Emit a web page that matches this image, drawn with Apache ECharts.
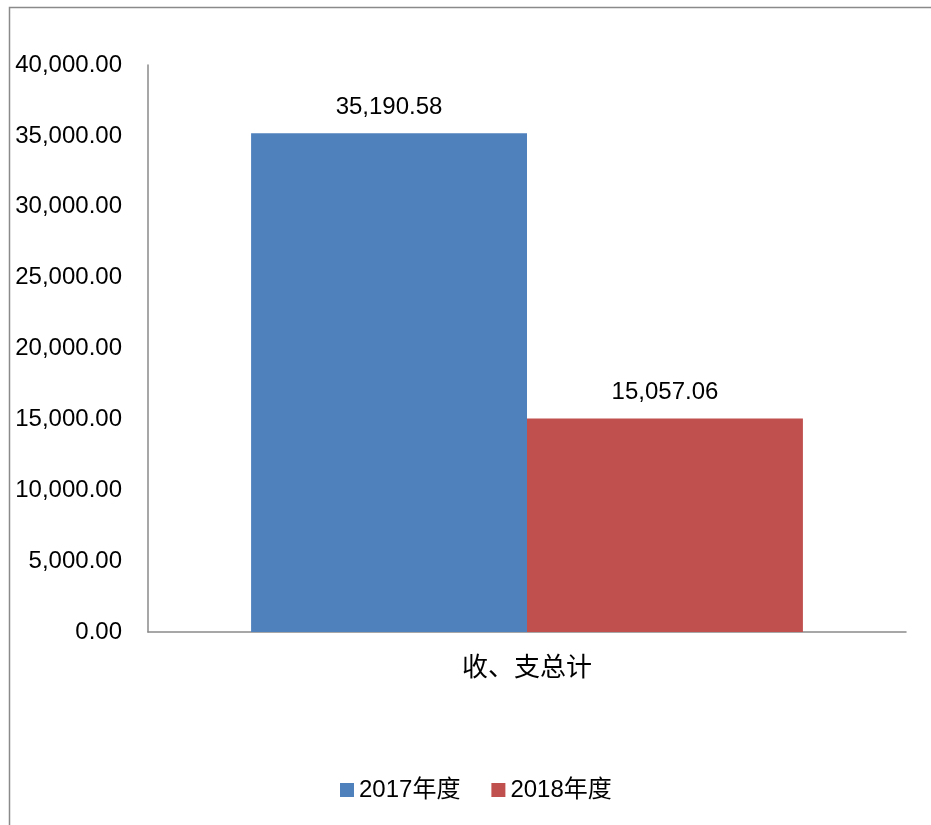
<!DOCTYPE html>
<html><head><meta charset="utf-8">
<script src="https://cdn.jsdelivr.net/npm/echarts@6/dist/echarts.min.js"></script>
<style>html,body{margin:0;padding:0;background:#fff}#c{width:931px;height:825px}</style>
</head><body><div id="c"></div>
<script>
var categories = ['收、支总计'];
var seriesNames = ['2017年度', '2018年度'];
var values2017 = [35190.58];
var values2018 = [15057.06];
var yTicks = [0, 5000, 10000, 15000, 20000, 25000, 30000, 35000, 40000];

function fmt(v){ return v.toLocaleString('en-US',{minimumFractionDigits:2,maximumFractionDigits:2}); }
var numFont = '"Liberation Sans", Arial, sans-serif';
var chart = echarts.init(document.getElementById('c'));
chart.setOption({
  animation:false,
  graphic:[{type:'rect',shape:{x:9.5,y:7.5,width:1200,height:1200},style:{fill:'none',stroke:'#8a8a8a',lineWidth:1.5},silent:true}],
  grid:{left:148,right:25,top:65,bottom:193},
  legend:{bottom:18,left:335,itemWidth:14,itemHeight:14,itemGap:31,icon:'rect',
    textStyle:{fontSize:24,color:'#000',fontFamily:numFont+', "Noto Sans CJK SC"'},data:seriesNames},
  xAxis:{type:'category',data:categories,
    axisLine:{lineStyle:{color:'#8a8a8a',width:1.5}},axisTick:{show:false},
    axisLabel:{fontSize:26,color:'#000',margin:21,fontFamily:'"Noto Sans CJK SC"'}},
  yAxis:{type:'value',min:yTicks[0],max:yTicks[yTicks.length-1],interval:5000,
    axisLine:{show:true,lineStyle:{color:'#8a8a8a',width:1.5}},axisTick:{show:false},splitLine:{show:false},
    axisLabel:{fontSize:24,color:'#000',margin:26,fontFamily:numFont,formatter:function(v){return fmt(v);}}},
  series:[
    {name:seriesNames[0],type:'bar',data:values2017,barGap:'0%',barCategoryGap:'27.2%',
     itemStyle:{color:'#4f81bd'},
     label:{show:true,position:'top',distance:14,fontSize:24,color:'#000',fontFamily:numFont,formatter:function(p){return fmt(p.value);}}},
    {name:seriesNames[1],type:'bar',data:values2018,barGap:'0%',barCategoryGap:'27.2%',
     itemStyle:{color:'#c0504d'},
     label:{show:true,position:'top',distance:14,fontSize:24,color:'#000',fontFamily:numFont,formatter:function(p){return fmt(p.value);}}}
  ]
});
</script></body></html>
